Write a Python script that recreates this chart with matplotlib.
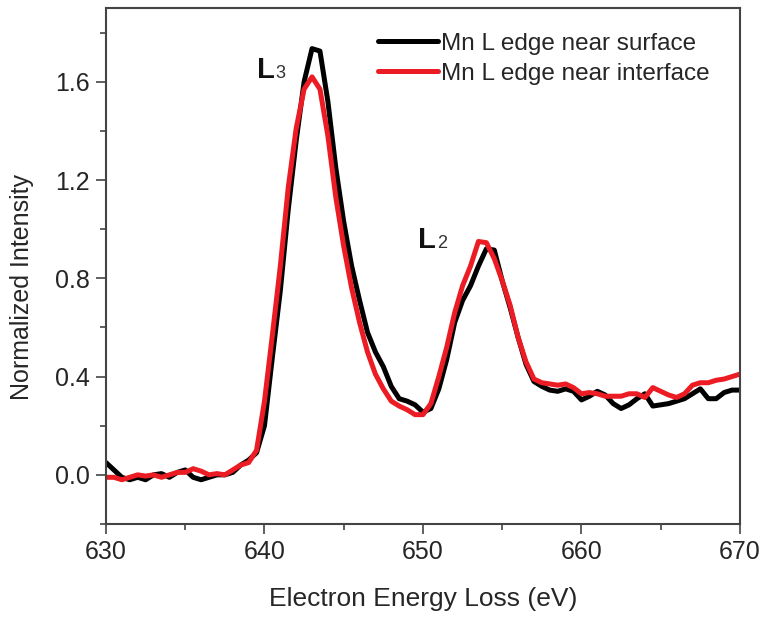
import numpy as np
import matplotlib.pyplot as plt
from matplotlib.ticker import MultipleLocator

plt.rc("font", family=["Liberation Sans", "DejaVu Sans"])

# Energy loss grid (eV)
energy = np.arange(630, 670.5, 0.5)

# Mn L edge near surface (black)
surface = [
    0.05, 0.02, -0.01, -0.02, -0.01, -0.02, 0.0, 0.005, -0.01, 0.01,
    0.02, -0.01, -0.02, -0.01, 0.0, 0.0, 0.01, 0.04, 0.06, 0.09,
    0.20, 0.48, 0.75, 1.08, 1.36, 1.60, 1.735, 1.725, 1.52, 1.25,
    1.03, 0.85, 0.71, 0.58, 0.50, 0.44, 0.36, 0.31, 0.30, 0.285,
    0.255, 0.27, 0.35, 0.47, 0.62, 0.71, 0.77, 0.85, 0.92, 0.915,
    0.79, 0.68, 0.56, 0.45, 0.38, 0.36, 0.345, 0.34, 0.35, 0.34,
    0.305, 0.32, 0.34, 0.325, 0.29, 0.27, 0.285, 0.31, 0.33, 0.28,
    0.285, 0.29, 0.30, 0.31, 0.33, 0.35, 0.31, 0.31, 0.335, 0.345,
    0.345,
]

# Mn L edge near interface (red)
interface = [
    -0.01, -0.01, -0.02, -0.01, 0.0, -0.005, 0.0, -0.01, 0.0, 0.01,
    0.01, 0.025, 0.015, 0.0, 0.005, 0.0, 0.02, 0.04, 0.05, 0.10,
    0.30, 0.57, 0.85, 1.17, 1.41, 1.57, 1.62, 1.57, 1.38, 1.13,
    0.93, 0.76, 0.62, 0.50, 0.41, 0.35, 0.30, 0.28, 0.265, 0.245,
    0.245, 0.29, 0.40, 0.52, 0.66, 0.77, 0.85, 0.95, 0.945, 0.88,
    0.79, 0.69, 0.56, 0.46, 0.39, 0.375, 0.37, 0.365, 0.37, 0.355,
    0.33, 0.335, 0.33, 0.32, 0.32, 0.32, 0.33, 0.33, 0.315, 0.355,
    0.34, 0.325, 0.315, 0.33, 0.365, 0.375, 0.375, 0.385, 0.39, 0.40,
    0.41,
]

text_color = "#262626"
spine_color = "#444444"

fig = plt.figure(figsize=(7.68, 6.22), dpi=100)
ax = fig.add_axes([0.138, 0.1576, 0.8255, 0.8294])

ax.plot(energy, surface, color="black", lw=3.6, label="Mn L edge near surface",
        solid_capstyle="round", solid_joinstyle="round")
ax.plot(energy, interface, color="#ec1c24", lw=3.6, label="Mn L edge near interface",
        solid_capstyle="round", solid_joinstyle="round")

ax.set_xlim(630, 670)
ax.set_ylim(-0.2, 1.9)
ax.xaxis.set_major_locator(MultipleLocator(10))
ax.xaxis.set_minor_locator(MultipleLocator(5))
ax.yaxis.set_minor_locator(MultipleLocator(0.2))
ax.set_yticks([0.0, 0.4, 0.8, 1.2, 1.6])
ax.set_yticklabels(["0.0", "0.4", "0.8", "1.2", "1.6"])

ax.tick_params(which="both", direction="out", top=False, right=False,
               color=spine_color, width=1.2, labelsize=18, labelcolor=text_color)
ax.tick_params(which="major", length=7.5, pad=4)
ax.tick_params(which="minor", length=4.5)
for sp in ax.spines.values():
    sp.set_color(spine_color)
    sp.set_linewidth(1.5)

ax.set_xlabel("Electron Energy Loss (eV)", fontsize=19, color=text_color)
ax.set_ylabel("Normalized Intensity", fontsize=18, color=text_color)
ax.xaxis.set_label_coords(0.5, -0.122)
ax.yaxis.set_label_coords(-0.113, 0.459)

# peak labels
ax.text(639.5, 1.615, "L", fontsize=21, fontweight="bold", color="#111111")
ax.text(640.68, 1.615, "3", fontsize=13, color="#333333")
ax.text(649.7, 0.925, "L", fontsize=21, fontweight="bold", color="#111111")
ax.text(650.88, 0.925, "2", fontsize=13, color="#333333")

leg = ax.legend(loc="upper left", bbox_to_anchor=(0.429, 0.952), frameon=False,
                fontsize=17.5, handlelength=2.45, handletextpad=0.15, labelspacing=0.32,
                borderaxespad=0, borderpad=0)
for t in leg.get_texts():
    t.set_color(text_color)

fig.savefig("out.png", dpi=100)
